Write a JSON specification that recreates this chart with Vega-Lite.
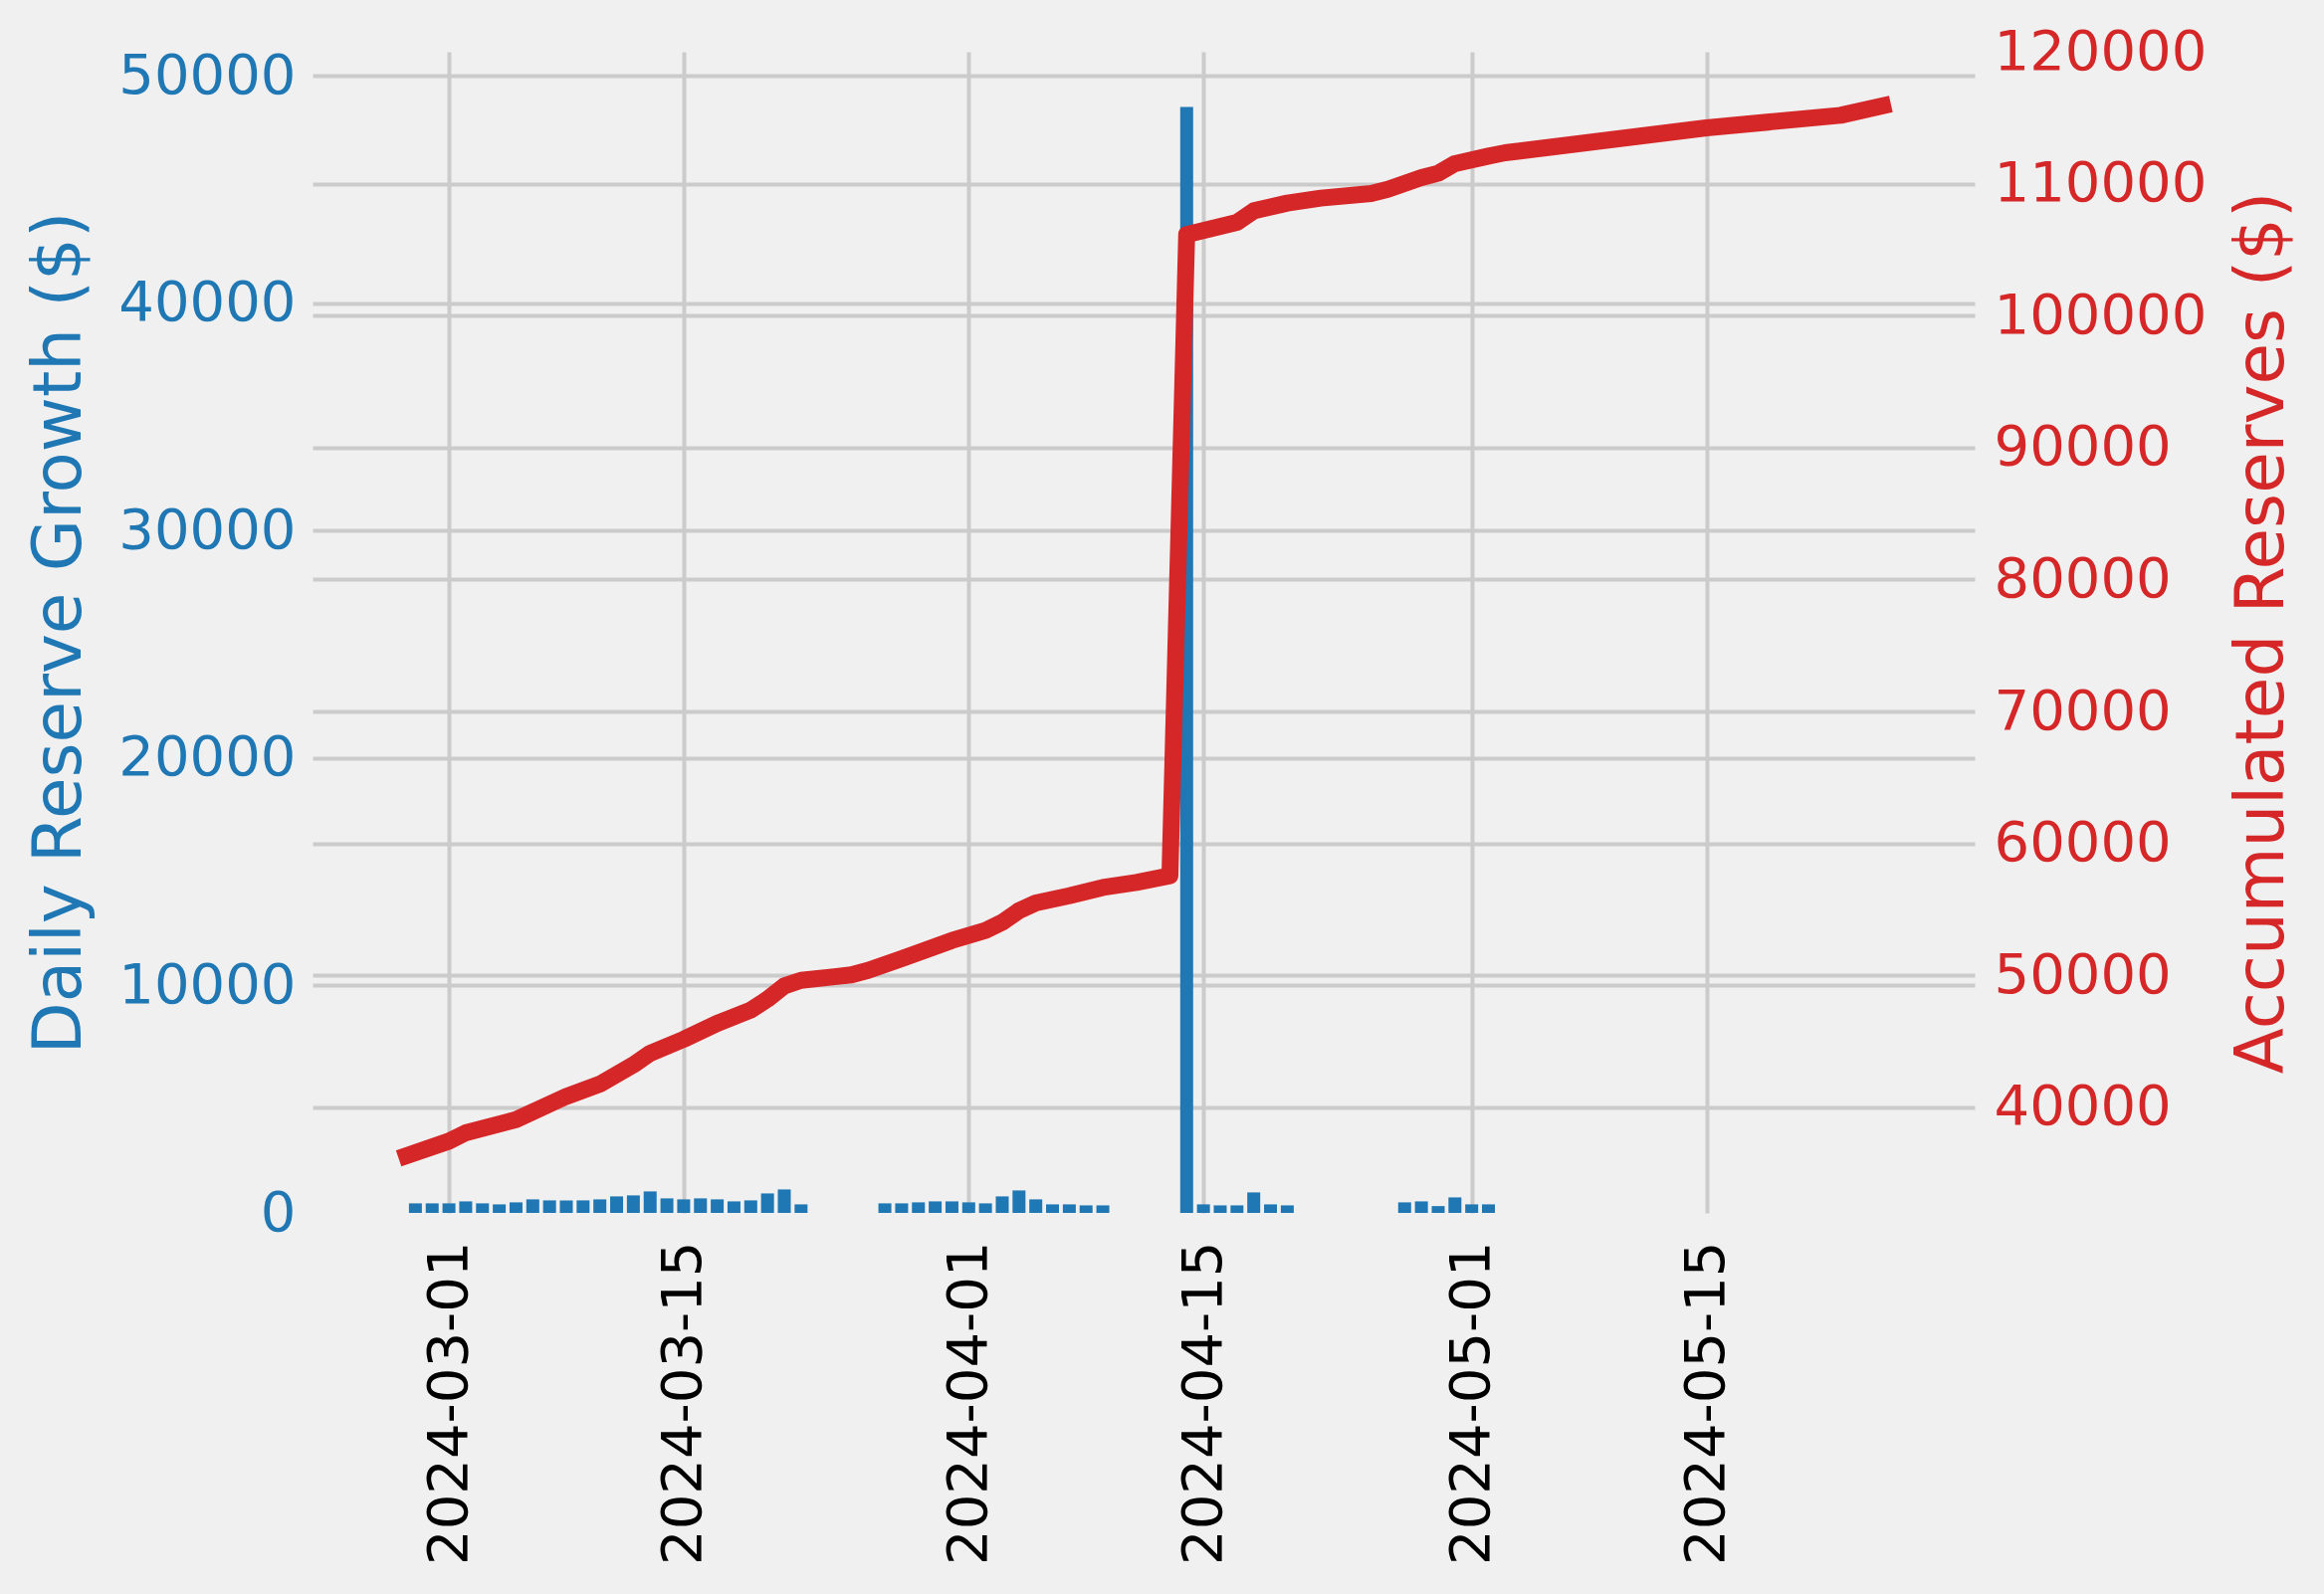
{
 "$schema": "https://vega.github.io/schema/vega-lite/v6.json",
 "width": 1670,
 "height": 1167,
 "autosize": {"type": "none"},
 "padding": {"left": 314, "top": 52, "right": 351, "bottom": 383},
 "background": "#f0f0f0",
 "config": {
  "view": {"stroke": null, "fill": "#f0f0f0"},
  "font": "DejaVu Sans",
  "axis": {"domain": false, "ticks": false, "gridColor": "#cbcbcb", "gridWidth": 4,
           "labelFont": "DejaVu Sans", "titleFont": "DejaVu Sans", "labelFontSize": 56, "titleFontSize": 67.5,
           "titleFontWeight": "normal", "labelOverlap": false, "labelFlush": false, "labelLimit": 0, "titleLimit": 0}
 },
 "datasets": {
  "growth": [
   {"date": "2024-02-28", "growth": 420}, {"date": "2024-02-29", "growth": 420}, {"date": "2024-03-01", "growth": 420},
   {"date": "2024-03-02", "growth": 507}, {"date": "2024-03-03", "growth": 420}, {"date": "2024-03-04", "growth": 376},
   {"date": "2024-03-05", "growth": 464}, {"date": "2024-03-06", "growth": 595}, {"date": "2024-03-07", "growth": 551},
   {"date": "2024-03-08", "growth": 551}, {"date": "2024-03-09", "growth": 551}, {"date": "2024-03-10", "growth": 595},
   {"date": "2024-03-11", "growth": 726}, {"date": "2024-03-12", "growth": 770}, {"date": "2024-03-13", "growth": 945},
   {"date": "2024-03-14", "growth": 639}, {"date": "2024-03-15", "growth": 595}, {"date": "2024-03-16", "growth": 639},
   {"date": "2024-03-17", "growth": 595}, {"date": "2024-03-18", "growth": 507}, {"date": "2024-03-19", "growth": 551},
   {"date": "2024-03-20", "growth": 857}, {"date": "2024-03-21", "growth": 1032}, {"date": "2024-03-22", "growth": 376},
   {"date": "2024-03-27", "growth": 420}, {"date": "2024-03-28", "growth": 420}, {"date": "2024-03-29", "growth": 464},
   {"date": "2024-03-30", "growth": 507}, {"date": "2024-03-31", "growth": 507}, {"date": "2024-04-01", "growth": 464},
   {"date": "2024-04-02", "growth": 420}, {"date": "2024-04-03", "growth": 726}, {"date": "2024-04-04", "growth": 988},
   {"date": "2024-04-05", "growth": 595}, {"date": "2024-04-06", "growth": 376}, {"date": "2024-04-07", "growth": 376},
   {"date": "2024-04-08", "growth": 332}, {"date": "2024-04-09", "growth": 332},
   {"date": "2024-04-14", "growth": 48626}, {"date": "2024-04-15", "growth": 376}, {"date": "2024-04-16", "growth": 332},
   {"date": "2024-04-17", "growth": 332}, {"date": "2024-04-18", "growth": 901}, {"date": "2024-04-19", "growth": 376},
   {"date": "2024-04-20", "growth": 332},
   {"date": "2024-04-27", "growth": 464}, {"date": "2024-04-28", "growth": 507}, {"date": "2024-04-29", "growth": 300},
   {"date": "2024-04-30", "growth": 682}, {"date": "2024-05-01", "growth": 376}, {"date": "2024-05-02", "growth": 376}
  ],
  "accum": [
   {"date": "2024-02-27", "reserves": 36130}, {"date": "2024-03-01", "reserves": 37436}, {"date": "2024-03-02", "reserves": 38069},
   {"date": "2024-03-05", "reserves": 39072}, {"date": "2024-03-08", "reserves": 40830}, {"date": "2024-03-10", "reserves": 41765},
   {"date": "2024-03-12", "reserves": 43220}, {"date": "2024-03-13", "reserves": 44100}, {"date": "2024-03-15", "reserves": 45158},
   {"date": "2024-03-17", "reserves": 46365}, {"date": "2024-03-19", "reserves": 47368}, {"date": "2024-03-20", "reserves": 48197},
   {"date": "2024-03-21", "reserves": 49200}, {"date": "2024-03-22", "reserves": 49630}, {"date": "2024-03-24", "reserves": 49900},
   {"date": "2024-03-25", "reserves": 50040}, {"date": "2024-03-26", "reserves": 50380}, {"date": "2024-03-28", "reserves": 51266},
   {"date": "2024-03-31", "reserves": 52646}, {"date": "2024-04-02", "reserves": 53400}, {"date": "2024-04-03", "reserves": 54026},
   {"date": "2024-04-04", "reserves": 54910}, {"date": "2024-04-05", "reserves": 55490}, {"date": "2024-04-07", "reserves": 56040},
   {"date": "2024-04-09", "reserves": 56666}, {"date": "2024-04-11", "reserves": 57043}, {"date": "2024-04-13", "reserves": 57548},
   {"date": "2024-04-14", "reserves": 106135}, {"date": "2024-04-17", "reserves": 107070}, {"date": "2024-04-18", "reserves": 107944},
   {"date": "2024-04-20", "reserves": 108527}, {"date": "2024-04-22", "reserves": 108903}, {"date": "2024-04-25", "reserves": 109260},
   {"date": "2024-04-26", "reserves": 109580}, {"date": "2024-04-28", "reserves": 110460}, {"date": "2024-04-29", "reserves": 110790},
   {"date": "2024-04-30", "reserves": 111520}, {"date": "2024-05-02", "reserves": 112090}, {"date": "2024-05-03", "reserves": 112345},
   {"date": "2024-05-15", "reserves": 114230}, {"date": "2024-05-23", "reserves": 115185}, {"date": "2024-05-26", "reserves": 116045}
  ]
 },
 "layer": [
  {
   "data": {"name": "growth"},
   "mark": {"type": "bar", "color": "#1f77b4", "width": 13, "y2Offset": -6.5},
   "encoding": {
    "x": {"field": "date", "type": "temporal",
          "scale": {"type": "utc", "domain": [
            {"year": 2024, "month": 2, "date": 22, "hours": 3, "minutes": 50, "utc": true},
            {"year": 2024, "month": 5, "date": 30, "hours": 16, "minutes": 48, "utc": true}]},
          "axis": {"title": null, "format": "%Y-%m-%d", "labelAngle": 270, "labelPadding": 28, "labelColor": "#000000", "grid": true,
                   "values": [
                    {"year": 2024, "month": 3, "date": 1, "utc": true},
                    {"year": 2024, "month": 3, "date": 15, "utc": true},
                    {"year": 2024, "month": 4, "date": 1, "utc": true},
                    {"year": 2024, "month": 4, "date": 15, "utc": true},
                    {"year": 2024, "month": 5, "date": 1, "utc": true},
                    {"year": 2024, "month": 5, "date": 15, "utc": true}]}},
    "y": {"field": "growth", "type": "quantitative",
          "scale": {"domain": [0, 51050], "nice": false, "zero": true},
          "axis": {"title": "Daily Reserve Growth ($)", "values": [0, 10000, 20000, 30000, 40000, 50000], "format": "d",
                   "labelColor": "#1f77b4", "titleColor": "#1f77b4", "labelPadding": 17, "titlePadding": 24, "grid": true,
                   "gridOpacity": {"condition": {"test": "datum.value === 0", "value": 0}, "value": 1}}}
   }
  },
  {
   "data": {"name": "accum"},
   "mark": {"type": "line", "color": "#d62728", "strokeWidth": 17, "strokeCap": "butt", "strokeJoin": "round"},
   "encoding": {
    "x": {"field": "date", "type": "temporal"},
    "y": {"field": "reserves", "type": "quantitative",
          "scale": {"domain": [32000, 120000], "nice": false, "zero": false},
          "axis": {"orient": "right", "title": "Accumulated Reserves ($)", "values": [40000, 50000, 60000, 70000, 80000, 90000, 100000, 110000, 120000],
                   "format": "d", "labelColor": "#d62728", "titleColor": "#d62728", "labelPadding": 19,
                   "titleAngle": 270, "titleBaseline": "top", "titlePadding": 56, "grid": true,
                   "gridOpacity": {"condition": {"test": "datum.value === 120000", "value": 0}, "value": 1}}}
   }
  }
 ],
 "resolve": {"scale": {"y": "independent"}, "axis": {"y": "independent"}}
}
